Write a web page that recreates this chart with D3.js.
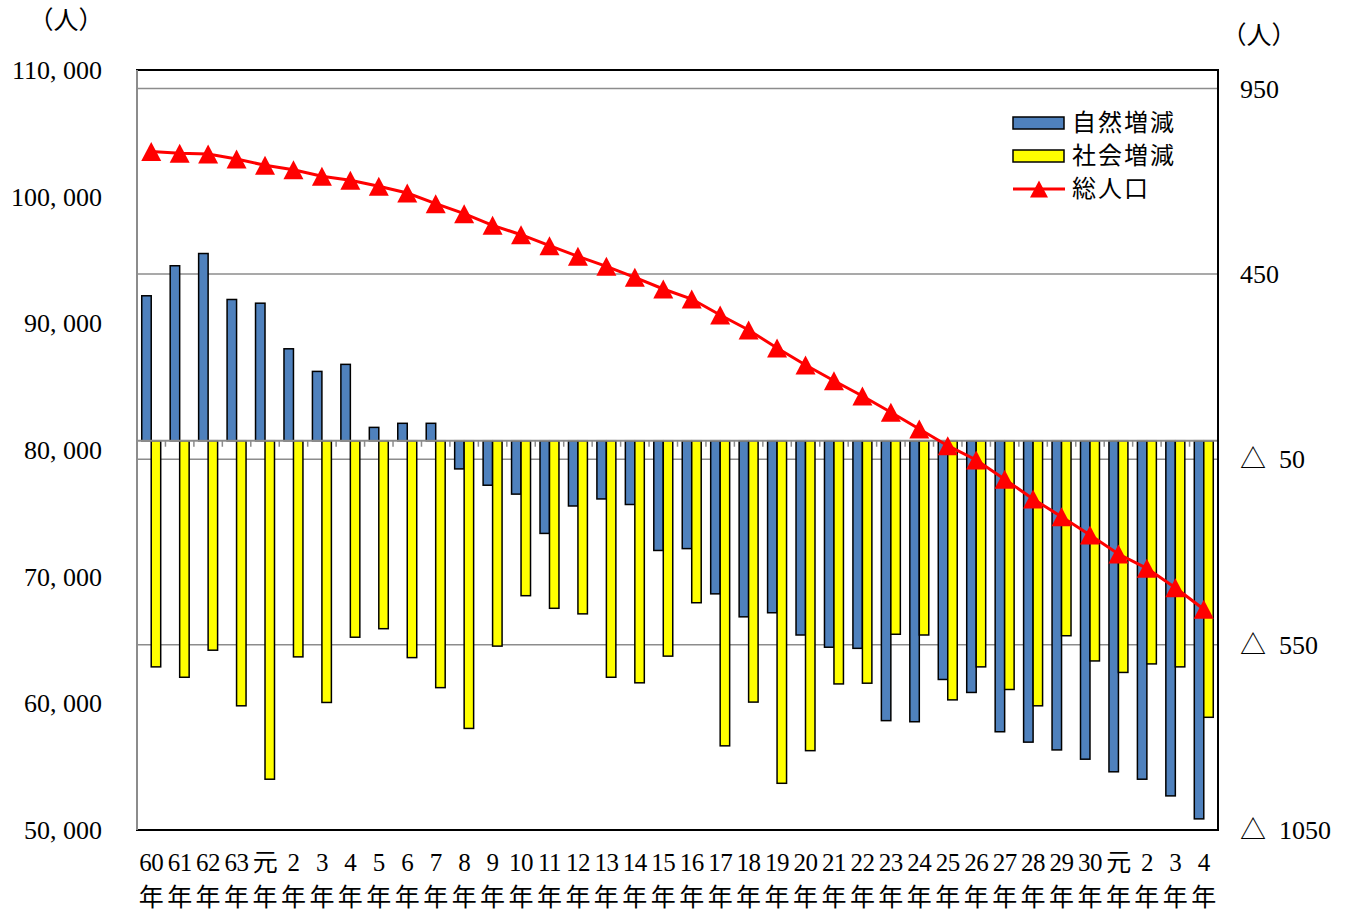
<!DOCTYPE html>
<html>
<head>
<meta charset="utf-8">
<style type="text/css">
	body { margin: 0; background: #fff; }
	text { font-family: "Liberation Serif", "Noto Sans CJK JP", serif; fill: #000; }
</style>
<script src="https://d3js.org/d3.v7.min.js"></script>
</head>
<body>
<svg width="1347" height="912"></svg>
<script>
// 年（昭和60〜63、平成元〜30、令和元〜4）
var categories = ["60","61","62","63","元","2","3","4","5","6","7","8","9","10","11","12","13","14","15","16","17","18","19","20","21","22","23","24","25","26","27","28","29","30","元","2","3","4"];

// 自然増減（人）
var natural = [391,472,505,381,371,248,187,206,36,47,47,-76,-120,-144,-250,-176,-157,-172,-296,-291,-413,-475,-464,-524,-557,-560,-755,-758,-644,-679,-785,-813,-834,-859,-893,-913,-958,-1020];

// 社会増減（人）
var social = [-610,-638,-565,-715,-913,-583,-706,-530,-507,-585,-666,-776,-554,-418,-452,-467,-638,-653,-581,-437,-823,-705,-924,-836,-656,-654,-522,-524,-699,-610,-671,-715,-526,-594,-625,-602,-610,-746];

// 総人口（人）
var population = [103570,103420,103360,102974,102476,102129,101608,101292,100818,100289,99447,98655,97739,96997,96129,95292,94503,93634,92711,91921,90658,89474,88053,86711,85471,84263,82976,81658,80339,79211,77687,76132,74734,73289,71789,70661,69129,67424];

var leftTicks = [50000,60000,70000,80000,90000,100000,110000];
var rightTicks = [-1050,-550,-50,450,950];
var seriesNames = ["自然増減","社会増減","総人口"];

var svg = d3.select("svg");
var plotL = 137, plotR = 1218, plotT = 70, plotB = 830;

var x0 = d3.scaleBand()
	.domain(d3.range(categories.length))
	.range([plotL, plotR]);

var x1 = d3.scaleBand()
	.domain(["nat","soc"])
	.range([0, x0.bandwidth()])
	.paddingOuter(0.5);

var yL = d3.scaleLinear().domain([50000, 110000]).range([plotB, plotT]);
var yR = d3.scaleLinear().domain([-1050, 1000]).range([plotB, plotT]);

var colors = { nat: "#4F81BD", soc: "#FFFF00" };

// gridlines (right axis)
svg.append("g")
	.selectAll("line")
	.data(rightTicks)
	.enter().append("line")
	.attr("x1", plotL).attr("x2", plotR)
	.attr("y1", function(d) { return yR(d); })
	.attr("y2", function(d) { return yR(d); })
	.attr("stroke", "#8c8c8c")
	.attr("stroke-width", 1.5);

// bars
var rows = categories.map(function(c, i) {
	return { i: i, nat: natural[i], soc: social[i] };
});

var groups = svg.append("g")
	.selectAll("g")
	.data(rows)
	.enter().append("g")
	.attr("transform", function(d) { return "translate(" + x0(d.i) + ",0)"; });

groups.selectAll("rect")
	.data(function(d) { return ["nat","soc"].map(function(k) { return { k: k, v: d[k] }; }); })
	.enter().append("rect")
	.attr("x", function(d) { return x1(d.k); })
	.attr("width", x1.bandwidth())
	.attr("y", function(d) { return yR(Math.max(0, d.v)); })
	.attr("height", function(d) { return Math.abs(yR(d.v) - yR(0)); })
	.attr("fill", function(d) { return colors[d.k]; })
	.attr("stroke", "#000")
	.attr("stroke-width", 1.5);

// category axis at zero
var zeroY = yR(0);
svg.append("line")
	.attr("x1", plotL).attr("x2", plotR)
	.attr("y1", zeroY).attr("y2", zeroY)
	.attr("stroke", "#8c8c8c")
	.attr("stroke-width", 2);

svg.append("g")
	.selectAll("line")
	.data(d3.range(categories.length + 1))
	.enter().append("line")
	.attr("x1", function(i) { return plotL + i * x0.step(); })
	.attr("x2", function(i) { return plotL + i * x0.step(); })
	.attr("y1", zeroY)
	.attr("y2", zeroY + 6)
	.attr("stroke", "#8c8c8c")
	.attr("stroke-width", 1.5);

// plot frame
svg.append("rect")
	.attr("x", plotL).attr("y", plotT)
	.attr("width", plotR - plotL).attr("height", plotB - plotT)
	.attr("fill", "none")
	.attr("stroke", "#000")
	.attr("stroke-width", 2);
svg.append("line")
	.attr("x1", plotL).attr("x2", plotL)
	.attr("y1", plotT).attr("y2", plotB)
	.attr("stroke", "#8c8c8c")
	.attr("stroke-width", 2);

// population line
var cx = function(i) { return x0(i) + x0.bandwidth() / 2; };
var line = d3.line()
	.x(function(d, i) { return cx(i); })
	.y(function(d) { return yL(d); });

svg.append("path")
	.datum(population)
	.attr("d", line)
	.attr("fill", "none")
	.attr("stroke", "#FF0000")
	.attr("stroke-width", 3);

var tri = "M0,-9.5L10,9.5L-10,9.5Z";
svg.append("g")
	.selectAll("path")
	.data(population)
	.enter().append("path")
	.attr("d", tri)
	.attr("transform", function(d, i) { return "translate(" + cx(i) + "," + yL(d) + ")"; })
	.attr("fill", "#FF0000");

// left axis labels
var fmtL = function(d) { return d3.format(",")(d).replace(",", ",\u00A0"); };
svg.append("g")
	.selectAll("text")
	.data(leftTicks)
	.enter().append("text")
	.attr("x", 102)
	.attr("y", function(d) { return yL(d); })
	.attr("dy", "0.35em")
	.attr("text-anchor", "end")
	.style("font-size", "26px")
	.text(fmtL);

// right axis labels
var fmtR = function(d) { return d < 0 ? "△\u00A0\u00A0" + Math.abs(d) : String(d); };
svg.append("g")
	.selectAll("text")
	.data(rightTicks)
	.enter().append("text")
	.attr("x", 1240)
	.attr("y", function(d) { return yR(d); })
	.attr("dy", "0.35em")
	.attr("text-anchor", "start")
	.style("font-size", "26px")
	.text(fmtR);

// unit labels
svg.append("text").attr("x", 66).attr("y", 20).attr("dy", "0.35em")
	.attr("text-anchor", "middle").style("font-size", "25px").text("（人）");
svg.append("text").attr("x", 1259).attr("y", 35).attr("dy", "0.35em")
	.attr("text-anchor", "middle").style("font-size", "25px").text("（人）");

// category labels
var cat = svg.append("g")
	.selectAll("text")
	.data(categories)
	.enter().append("text")
	.attr("text-anchor", "middle")
	.style("font-size", "25px");
cat.append("tspan")
	.attr("x", function(d, i) { return cx(i); })
	.attr("y", 862)
	.attr("dy", "0.35em")
	.style("letter-spacing", "-0.5px")
	.text(function(d) { return d; });
cat.append("tspan")
	.attr("x", function(d, i) { return cx(i); })
	.attr("y", 897)
	.attr("dy", "0.35em")
	.text("年");

// legend
var lg = svg.append("g").attr("transform", "translate(1013,0)");
lg.append("rect").attr("x", 0).attr("y", 117).attr("width", 51).attr("height", 12)
	.attr("fill", colors.nat).attr("stroke", "#000").attr("stroke-width", 1.5);
lg.append("rect").attr("x", 0).attr("y", 150).attr("width", 51).attr("height", 12)
	.attr("fill", colors.soc).attr("stroke", "#000").attr("stroke-width", 1.5);
lg.append("line").attr("x1", 0).attr("x2", 52).attr("y1", 189).attr("y2", 189)
	.attr("stroke", "#FF0000").attr("stroke-width", 3);
lg.append("path").attr("d", tri).attr("transform", "translate(26,189) scale(0.9)")
	.attr("fill", "#FF0000");
lg.selectAll("text.lbl")
	.data(seriesNames)
	.enter().append("text")
	.attr("class", "lbl")
	.attr("x", 59)
	.attr("y", function(d, i) { return [123, 156, 189][i]; })
	.attr("dy", "0.35em")
	.style("font-size", "24px")
	.style("letter-spacing", "2px")
	.text(function(d) { return d; });
</script>
</body>
</html>
